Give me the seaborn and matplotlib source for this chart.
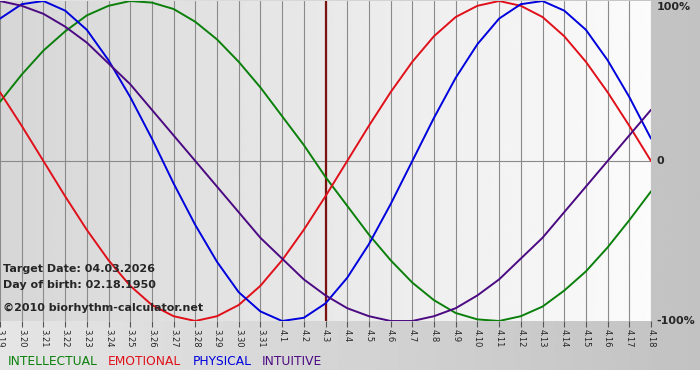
import numpy as np
import pandas as pd
import seaborn as sns
import matplotlib.pyplot as plt
from matplotlib import transforms

# days shown on the chart (month.day)
days = ['3.19', '3.20', '3.21', '3.22', '3.23', '3.24', '3.25', '3.26', '3.27', '3.28',
        '3.29', '3.30', '3.31', '4.1', '4.2', '4.3', '4.4', '4.5', '4.6', '4.7',
        '4.8', '4.9', '4.10', '4.11', '4.12', '4.13', '4.14', '4.15', '4.16', '4.17', '4.18']
target_day = '4.3'

# values (-1 = -100%, 1 = 100%)
physical = [0.89, 0.98, 1.00, 0.94, 0.82, 0.63, 0.40, 0.14, -0.14, -0.40, -0.63, -0.82, -0.94, -1.00,
            -0.98, -0.89, -0.73, -0.52, -0.27, 0.00, 0.27, 0.52, 0.73, 0.89, 0.98, 1.00, 0.94, 0.82,
            0.63, 0.40, 0.14]
emotional = [0.43, 0.22, 0.00, -0.22, -0.43, -0.62, -0.78, -0.90, -0.97, -1.00, -0.97, -0.90, -0.78,
             -0.62, -0.43, -0.22, 0.00, 0.22, 0.43, 0.62, 0.78, 0.90, 0.97, 1.00, 0.97, 0.90, 0.78,
             0.62, 0.43, 0.22, 0.00]
intellectual = [0.37, 0.54, 0.69, 0.81, 0.91, 0.97, 1.00, 0.99, 0.95, 0.87, 0.76, 0.62, 0.46, 0.28,
                0.10, -0.10, -0.28, -0.46, -0.62, -0.76, -0.87, -0.95, -0.99, -1.00, -0.97, -0.91,
                -0.81, -0.69, -0.54, -0.37, -0.19]
intuitive = [1.00, 0.97, 0.92, 0.84, 0.74, 0.61, 0.48, 0.32, 0.16, 0.00, -0.16, -0.32, -0.48, -0.61,
             -0.74, -0.84, -0.92, -0.97, -1.00, -1.00, -0.97, -0.92, -0.84, -0.74, -0.61, -0.48,
             -0.32, -0.16, 0.00, 0.16, 0.32]

rhythms = ['INTELLECTUAL', 'EMOTIONAL', 'PHYSICAL', 'INTUITIVE']
colors = {'INTELLECTUAL': '#0a800a', 'EMOTIONAL': '#e0101a', 'PHYSICAL': '#0000dd', 'INTUITIVE': '#4b0a82'}

df = pd.concat([
    pd.DataFrame({'day': range(len(days)), 'value': vals, 'rhythm': name})
    for name, vals in zip(rhythms, [intellectual, emotional, physical, intuitive])
], ignore_index=True)

sns.set_style('white')
plt.rcParams['font.family'] = ['DejaVu Sans']

fig = plt.figure(figsize=(7, 3.8), dpi=100)

# outer grey panel
bg = fig.add_axes([0, 10 / 380, 1, 370 / 380])
bg.imshow(np.linspace(0.90, 0.76, 256)[None, :], cmap='gray', vmin=0, vmax=1,
          aspect='auto', extent=[0, 1, 0, 1])
bg.axis('off')

ax = fig.add_axes([0, 59 / 380, 651 / 700, 320 / 380])
ax.imshow(np.linspace(0.84, 0.985, 256)[None, :], cmap='gray', vmin=0, vmax=1,
          aspect='auto', extent=[0, 1, 0, 1], transform=ax.transAxes, zorder=0)

for i in range(len(days)):
    ax.axvline(i, color='#8a8a8a', lw=0.8, zorder=1)
ax.axhline(0, color='#8a8a8a', lw=0.8, zorder=1)
ax.axvline(days.index(target_day), color='#7a1010', lw=1.6, zorder=1)

sns.lineplot(data=df, x='day', y='value', hue='rhythm', hue_order=rhythms, palette=colors,
             linewidth=1.4, legend=False, ax=ax, zorder=3)

ax.set_xlim(0, len(days) - 1)
ax.set_ylim(-1, 1)
ax.set_xticks(range(len(days)))
ax.set_xticklabels(days, rotation=270, fontsize=6)
ax.set_yticks([])
ax.set_xlabel('')
ax.set_ylabel('')
ax.tick_params(axis='x', length=4, width=0.8, color='#555555', pad=1.5, bottom=True)
for s in ax.spines.values():
    s.set_visible(False)

tr = transforms.blended_transform_factory(ax.transAxes, ax.transData)
ax.text(1.009, 0.995, '100%', transform=tr, fontsize=8, fontweight='bold', va='top', ha='left')
ax.text(1.009, 0.0, '0', transform=tr, fontsize=8, fontweight='bold', va='center', ha='left')
ax.text(1.009, -1.0, '-100%', transform=tr, fontsize=8, fontweight='bold', va='center', ha='left')

ax.text(0.004, 0.153, 'Target Date: 04.03.2026', transform=ax.transAxes, fontsize=8,
        fontweight='bold', va='baseline', zorder=4)
ax.text(0.004, 0.103, 'Day of birth: 02.18.1950', transform=ax.transAxes, fontsize=8,
        fontweight='bold', va='baseline', zorder=4)
ax.text(0.004, 0.031, '©2010 biorhythm-calculator.net', transform=ax.transAxes, fontsize=8,
        fontweight='bold', va='baseline', zorder=4)

# colored legend row at the bottom
for name, xpx in zip(rhythms, [8, 108, 193, 262]):
    fig.text(xpx / 700, 15 / 380, name, color=colors[name], fontsize=8.8, va='baseline')

fig.savefig('out.png', dpi=100)
